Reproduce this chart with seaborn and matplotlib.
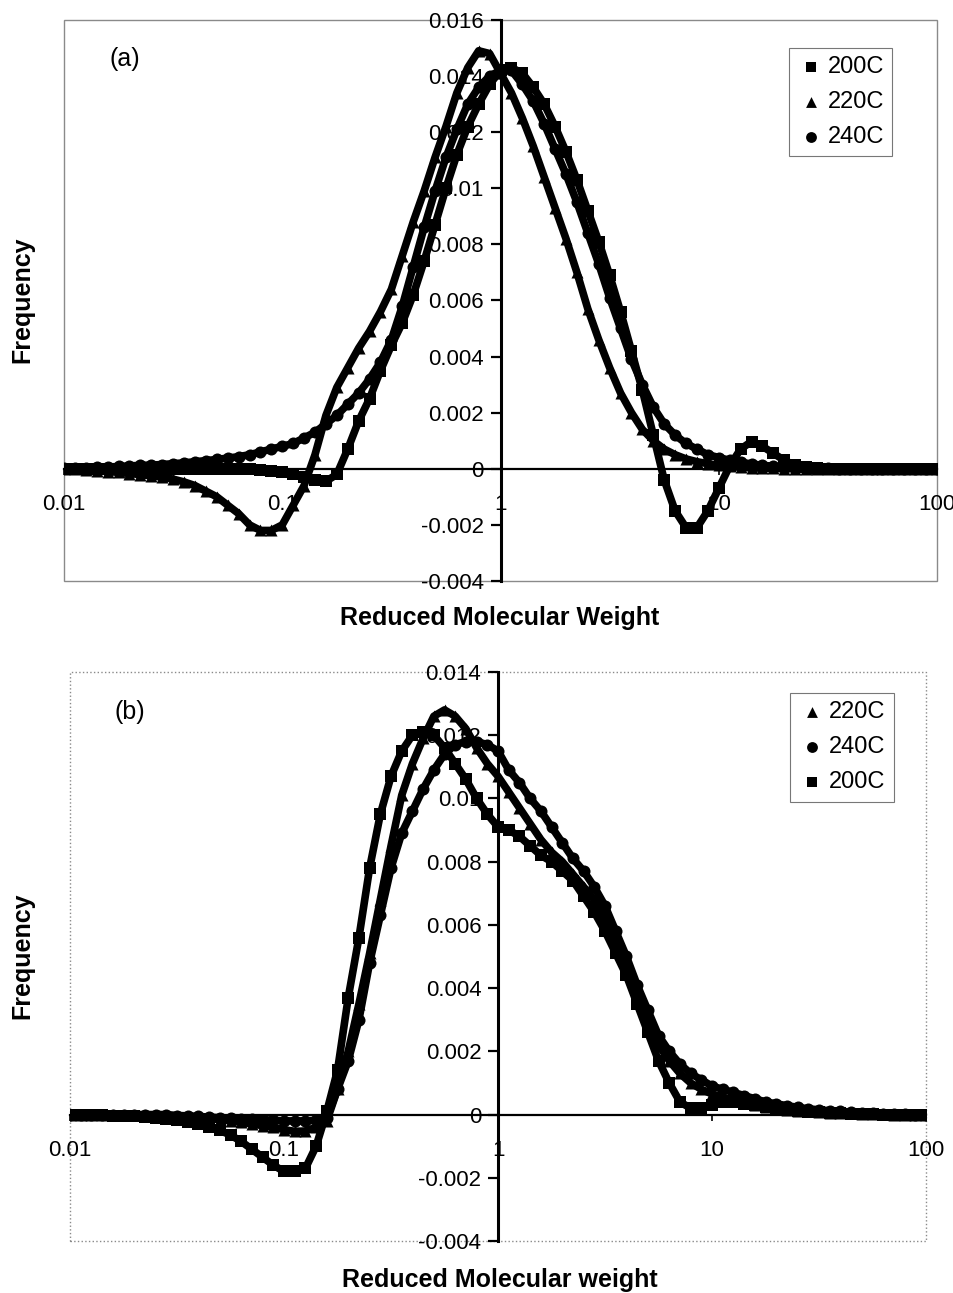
#GPC frequency distributions, two panels
import numpy as np
import matplotlib.pyplot as plt
import seaborn as sns
from matplotlib.patches import Rectangle
from matplotlib.ticker import NullLocator

# reduced molecular weight grid (log10), 0.05 decade steps
log_mw = np.round(np.arange(-2.0, 2.0001, 0.05), 2)
mw = 10 ** log_mw

# panel (a)
a_200 = [0, 0, 0, 0, 0, 0, 0, 0, 0, 0, 0, 0, 0, 0, 0, 0, 0,
         -0.00002, -0.00004, -0.00008, -0.00012, -0.0002, -0.0003, -0.0004, -0.00045, -0.0002,
         0.0007, 0.0017, 0.0025, 0.0035, 0.0044, 0.0052, 0.0062, 0.0074, 0.0087, 0.0100,
         0.0112, 0.0122, 0.0130, 0.0137, 0.0142, 0.0143, 0.0141, 0.0136, 0.0130, 0.0122,
         0.0113, 0.0103, 0.0092, 0.0081, 0.0069, 0.0056, 0.0042, 0.0028, 0.0012, -0.0004,
         -0.0015, -0.0021, -0.0021, -0.0015, -0.0007, 0.0001, 0.0007, 0.00097, 0.0008, 0.00055,
         0.0003, 0.00012, 0.00005, 0.00002,
         0, 0, 0, 0, 0, 0, 0, 0, 0, 0, 0]
a_220 = [0, -0.00002, -0.00004, -0.00007, -0.0001, -0.00013, -0.00017, -0.00021, -0.00025, -0.0003,
         -0.00037, -0.00047, -0.0006, -0.0008, -0.001, -0.0013, -0.0016, -0.0020, -0.0022, -0.0022,
         -0.0020, -0.0013, -0.0006, 0.0005, 0.0019, 0.0029, 0.0036, 0.0043, 0.0049, 0.0056,
         0.0064, 0.0076, 0.0088, 0.0099, 0.0111, 0.0122, 0.0134, 0.0143, 0.0149, 0.0148,
         0.0141, 0.0134, 0.0125, 0.0115, 0.0104, 0.0093, 0.0082, 0.0070, 0.0057, 0.0046,
         0.0036, 0.0027, 0.0020, 0.0014, 0.0010, 0.0007, 0.0005, 0.00035, 0.00025, 0.00018,
         0.00012, 0.00008, 0.00005, 0.00003, 0.00002, 0.00001,
         0, 0, 0, 0, 0, 0, 0, 0, 0, 0, 0, 0, 0, 0, 0]
a_240 = [0.00002, 0.00003, 0.00004, 0.00005, 0.00006, 0.00008, 0.0001, 0.00012, 0.00013, 0.00015,
         0.00018, 0.00021, 0.00025, 0.00029, 0.00033, 0.00038, 0.00043, 0.0005, 0.0006, 0.0007,
         0.0008, 0.0009, 0.0011, 0.0013, 0.0016, 0.0019, 0.0023, 0.0027, 0.0032, 0.0038,
         0.0046, 0.0058, 0.0072, 0.0086, 0.0099, 0.0111, 0.0121, 0.0130, 0.0136, 0.0140,
         0.0142, 0.0142, 0.0137, 0.0131, 0.0123, 0.0114, 0.0105, 0.0095, 0.0084, 0.0073,
         0.0061, 0.0050, 0.0039, 0.0030, 0.0022, 0.0016, 0.0012, 0.0009, 0.0007, 0.0005,
         0.0004, 0.0003, 0.00023, 0.00017, 0.00012, 0.00009, 0.00006, 0.00004, 0.00003, 0.00002,
         0.00001, 0, 0, 0, 0, 0, 0, 0, 0, 0, 0]

# panel (b)
b_200 = [0, 0, -0.00001, -0.00002, -0.00003, -0.00004, -0.00006, -0.00008, -0.0001, -0.00014,
         -0.00018, -0.00024, -0.0003, -0.0004, -0.0005, -0.00065, -0.00085, -0.0011, -0.00135, -0.0016,
         -0.0018, -0.0018, -0.0017, -0.0010, 0.0001, 0.0014, 0.0037, 0.0056, 0.0078, 0.0095,
         0.0107, 0.0115, 0.0120, 0.0121, 0.0120, 0.0116, 0.0111, 0.0106, 0.0100, 0.0095,
         0.0091, 0.0090, 0.0088, 0.0085, 0.0082, 0.0080, 0.0077, 0.0074, 0.0069, 0.0064,
         0.0058, 0.0051, 0.0044, 0.0035, 0.0026, 0.0017, 0.0010, 0.0004, 0.0002, 0.0002,
         0.0003, 0.0004, 0.0004, 0.00035, 0.0003, 0.00024, 0.00019, 0.00015, 0.00012, 0.00009,
         0.00007, 0.00005, 0.00004, 0.00003, 0.00002, 0.00001, 0, 0, 0, 0, 0]
b_220 = [0, 0, 0, 0, 0, 0, -0.00001, -0.00002, -0.00003, -0.00004,
         -0.00005, -0.00007, -0.0001, -0.00013, -0.00016, -0.0002, -0.00024, -0.0003, -0.00035, -0.0004,
         -0.00048, -0.00053, -0.00052, -0.0004, -0.0002, 0.0008, 0.0020, 0.0035, 0.0051, 0.0068,
         0.0085, 0.0101, 0.0111, 0.0119, 0.0126, 0.0128, 0.0126, 0.0122, 0.0116, 0.0111,
         0.0107, 0.0102, 0.0097, 0.0092, 0.0087, 0.0083, 0.0080, 0.0076, 0.0072, 0.0068,
         0.0062, 0.0054, 0.0046, 0.0037, 0.0029, 0.0022, 0.0017, 0.0013, 0.0010, 0.0008,
         0.00065, 0.00055, 0.00045, 0.00037, 0.0003, 0.00024, 0.00019, 0.00015, 0.00012, 0.0001,
         0.00008, 0.00006, 0.00005, 0.00004, 0.00003, 0.00002, 0.00001, 0, 0, 0, 0]
b_240 = [0, 0, 0, 0, 0, 0, 0, 0, 0, 0,
         -0.00003, -0.00004, -0.00006, -0.00008, -0.0001, -0.00012, -0.00013, -0.00015, -0.00016, -0.00018,
         -0.0002, -0.0002, -0.0002, -0.00018, -0.0001, 0.0008, 0.0017, 0.0030, 0.0048, 0.0063,
         0.0078, 0.0089, 0.0096, 0.0103, 0.0109, 0.0114, 0.0117, 0.0118, 0.0118, 0.0117,
         0.0115, 0.0109, 0.0105, 0.0100, 0.0096, 0.0091, 0.0086, 0.0081, 0.0077, 0.0072,
         0.0066, 0.0058, 0.0050, 0.0041, 0.0033, 0.0025, 0.0020, 0.0016, 0.0013, 0.0011,
         0.0009, 0.0008, 0.0007, 0.0006, 0.0005, 0.0004, 0.00034, 0.00028, 0.00023, 0.00018,
         0.00015, 0.00012, 0.0001, 0.00008, 0.00006, 0.00004, 0.00003, 0.00002, 0.00001, 0, 0]

x_ticks = [0.01, 0.1, 1, 10, 100]
x_ticklabels = ["0.01", "0.1", "1", "10", "100"]
a_yticks = [-0.004, -0.002, 0, 0.002, 0.004, 0.006, 0.008, 0.01, 0.012, 0.014, 0.016]
b_yticks = [-0.004, -0.002, 0, 0.002, 0.004, 0.006, 0.008, 0.01, 0.012, 0.014]

sns.set_style("white")
plt.rcParams["font.family"] = ["Liberation Sans", "DejaVu Sans"]
plt.rcParams["text.color"] = "black"
plt.rcParams["xtick.color"] = "black"
plt.rcParams["ytick.color"] = "black"

fig = plt.figure(figsize=(9.54, 12.93), dpi=100)
ax_a = fig.add_axes([0.0671, 0.5507, 0.9151, 0.4339])
ax_b = fig.add_axes([0.0734, 0.0402, 0.8973, 0.4401])


def draw_panel(ax, series, yticks, tag, legend_xy, frame_ls):
    for name, vals, marker in series:
        sns.lineplot(x=mw, y=vals, ax=ax, color="black", linewidth=5.5,
                     legend=False, zorder=2)
        sns.scatterplot(x=mw, y=vals, ax=ax, marker=marker, color="black",
                        s=75, linewidth=0, label=name, zorder=3)
    ax.set_xscale("log")
    ax.set_xlim(0.01, 100)
    ax.set_ylim(yticks[0], yticks[-1])
    ax.set_xlabel("")
    ax.set_ylabel("")
    for side in ["top", "right"]:
        ax.spines[side].set_visible(False)
    ax.spines["left"].set_position(("data", 1))
    ax.spines["bottom"].set_position(("data", 0))
    ax.spines["left"].set_color("black")
    ax.spines["bottom"].set_color("black")
    ax.spines["left"].set_linewidth(2.2)
    ax.spines["bottom"].set_linewidth(1.6)
    ax.set_xticks(x_ticks)
    ax.set_xticklabels(x_ticklabels)
    ax.xaxis.set_minor_locator(NullLocator())
    ax.set_yticks(yticks)
    ax.set_yticklabels(["{:g}".format(t) for t in yticks])
    ax.tick_params(axis="x", bottom=True, direction="out", length=4, width=1.2,
                   labelsize=16, pad=14, colors="black")
    ax.tick_params(axis="y", left=True, direction="out", length=7, width=1.6,
                   labelsize=16, pad=5, colors="black")
    ax.add_patch(Rectangle((0, 0), 1, 1, transform=ax.transAxes, fill=False,
                           edgecolor="#8a8a8a", linewidth=1.0, linestyle=frame_ls,
                           clip_on=False, zorder=0))
    ax.text(0.07, 0.93, tag, transform=ax.transAxes, fontsize=18,
            ha="center", va="center")
    leg = ax.legend(loc="upper left", bbox_to_anchor=legend_xy, frameon=True,
                    fancybox=False, edgecolor="#555555", fontsize=17,
                    handletextpad=0.1, borderpad=0.35, labelspacing=0.55,
                    handlelength=1.2, borderaxespad=0, markerscale=0.9)
    leg.get_frame().set_linewidth(0.8)


draw_panel(ax_a, [("200C", a_200, "s"), ("220C", a_220, "^"), ("240C", a_240, "o")],
           a_yticks, "(a)", (0.83, 0.95), "-")
draw_panel(ax_b, [("220C", b_220, "^"), ("240C", b_240, "o"), ("200C", b_200, "s")],
           b_yticks, "(b)", (0.841, 0.963), ":")

fig.text(0.524, 0.522, "Reduced Molecular Weight", fontsize=18, fontweight="bold",
         ha="center", va="center")
fig.text(0.023, 0.768, "Frequency", fontsize=18, fontweight="bold", rotation=90,
         ha="center", va="center")
fig.text(0.524, 0.010, "Reduced Molecular weight", fontsize=18, fontweight="bold",
         ha="center", va="center")
fig.text(0.023, 0.261, "Frequency", fontsize=18, fontweight="bold", rotation=90,
         ha="center", va="center")

fig.savefig("out.png", dpi=100)
